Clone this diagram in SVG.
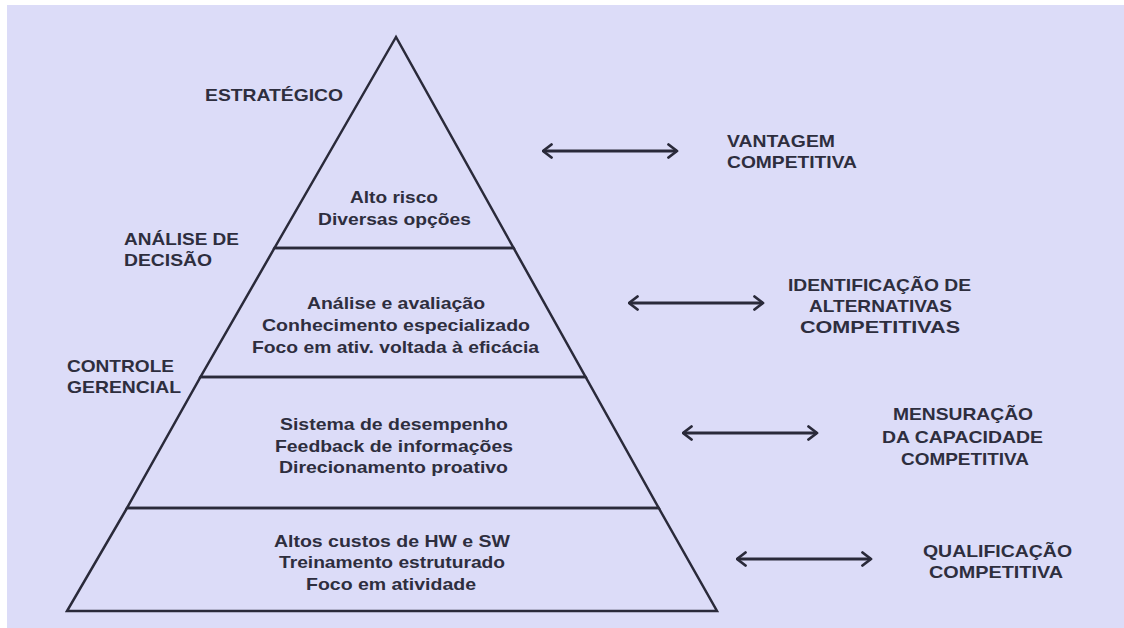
<svg xmlns="http://www.w3.org/2000/svg" width="1124" height="628" viewBox="0 0 1124 628">
<defs>
<style>
.bg{fill:#dcdcf8}
.tier{fill:none;stroke:#2a2a3a;stroke-width:2.5;stroke-linejoin:miter}
.t{font-family:"Liberation Sans",Arial,sans-serif;font-weight:bold;font-size:17px;fill:#2e2e3e}
.c{text-anchor:middle}
.arrow{stroke:#2a2a3a;stroke-width:3;fill:none;marker-start:url(#ah);marker-end:url(#ah)}
</style>
<marker id="ah" viewBox="0 0 12 16" refX="10.5" refY="8" markerWidth="12" markerHeight="16" markerUnits="userSpaceOnUse" orient="auto-start-reverse">
<path d="M2,1.5 L10.5,8 L2,14.5" fill="none" stroke="#2a2a3a" stroke-width="2.8" stroke-linecap="round" stroke-linejoin="round"/>
</marker>
</defs>
<rect x="0" y="0" width="1124" height="628" fill="#ffffff"/>
<rect class="bg" x="7" y="5" width="1117" height="623"/>

<g id="tier-estrategico">
<polygon class="tier" points="396,37 274.5,248 513.6,248"/>
<text class="t c" x="394" y="203" textLength="88" lengthAdjust="spacingAndGlyphs">Alto risco</text>
<text class="t c" x="394.5" y="225" textLength="153" lengthAdjust="spacingAndGlyphs">Diversas opções</text>
</g>

<g id="tier-analise">
<polygon class="tier" points="274.5,248 513.6,248 585.6,377 200.5,377"/>
<text class="t c" x="396" y="309" textLength="178" lengthAdjust="spacingAndGlyphs">Análise e avaliação</text>
<text class="t c" x="396" y="331" textLength="268" lengthAdjust="spacingAndGlyphs">Conhecimento especializado</text>
<text class="t c" x="395.5" y="353" textLength="287" lengthAdjust="spacingAndGlyphs">Foco em ativ. voltada à eficácia</text>
</g>

<g id="tier-controle">
<polygon class="tier" points="200.5,377 585.6,377 658.7,508 127,508"/>
<text class="t c" x="394" y="430" textLength="228" lengthAdjust="spacingAndGlyphs">Sistema de desempenho</text>
<text class="t c" x="394" y="452" textLength="238" lengthAdjust="spacingAndGlyphs">Feedback de informações</text>
<text class="t c" x="393.5" y="473" textLength="229" lengthAdjust="spacingAndGlyphs">Direcionamento proativo</text>
</g>

<g id="tier-operacional">
<polygon class="tier" points="127,508 658.7,508 717,611 67,611"/>
<text class="t c" x="392" y="547" textLength="236" lengthAdjust="spacingAndGlyphs">Altos custos de HW e SW</text>
<text class="t c" x="392" y="568" textLength="226" lengthAdjust="spacingAndGlyphs">Treinamento estruturado</text>
<text class="t c" x="391" y="590" textLength="170" lengthAdjust="spacingAndGlyphs">Foco em atividade</text>
</g>

<g id="label-estrategico">
<text class="t" x="205" y="101" textLength="138" lengthAdjust="spacingAndGlyphs">ESTRATÉGICO</text>
</g>
<g id="label-analise-decisao">
<text class="t" x="124" y="245" textLength="115" lengthAdjust="spacingAndGlyphs">ANÁLISE DE</text>
<text class="t" x="124" y="266" textLength="88" lengthAdjust="spacingAndGlyphs">DECISÃO</text>
</g>
<g id="label-controle-gerencial">
<text class="t" x="67" y="372" textLength="107" lengthAdjust="spacingAndGlyphs">CONTROLE</text>
<text class="t" x="67" y="393" textLength="114" lengthAdjust="spacingAndGlyphs">GERENCIAL</text>
</g>

<g id="label-vantagem">
<text class="t" x="727" y="147" textLength="108" lengthAdjust="spacingAndGlyphs">VANTAGEM</text>
<text class="t" x="727" y="168" textLength="130" lengthAdjust="spacingAndGlyphs">COMPETITIVA</text>
</g>
<g id="label-identificacao">
<text class="t c" x="879.5" y="291" textLength="183" lengthAdjust="spacingAndGlyphs">IDENTIFICAÇÃO DE</text>
<text class="t c" x="880.5" y="312" textLength="143" lengthAdjust="spacingAndGlyphs">ALTERNATIVAS</text>
<text class="t c" x="880" y="333" textLength="160" lengthAdjust="spacingAndGlyphs">COMPETITIVAS</text>
</g>
<g id="label-mensuracao">
<text class="t c" x="963" y="420" textLength="140" lengthAdjust="spacingAndGlyphs">MENSURAÇÃO</text>
<text class="t c" x="962.5" y="443" textLength="161" lengthAdjust="spacingAndGlyphs">DA CAPACIDADE</text>
<text class="t c" x="965" y="465" textLength="128" lengthAdjust="spacingAndGlyphs">COMPETITIVA</text>
</g>
<g id="label-qualificacao">
<text class="t c" x="997.5" y="557" textLength="149" lengthAdjust="spacingAndGlyphs">QUALIFICAÇÃO</text>
<text class="t c" x="996" y="578" textLength="134" lengthAdjust="spacingAndGlyphs">COMPETITIVA</text>
</g>

<g id="connectors">
<line class="arrow" x1="543" y1="151" x2="677" y2="151"/>
<line class="arrow" x1="629" y1="303" x2="763" y2="303"/>
<line class="arrow" x1="683" y1="433" x2="817" y2="433"/>
<line class="arrow" x1="737" y1="559" x2="871" y2="559"/>
</g>
</svg>
